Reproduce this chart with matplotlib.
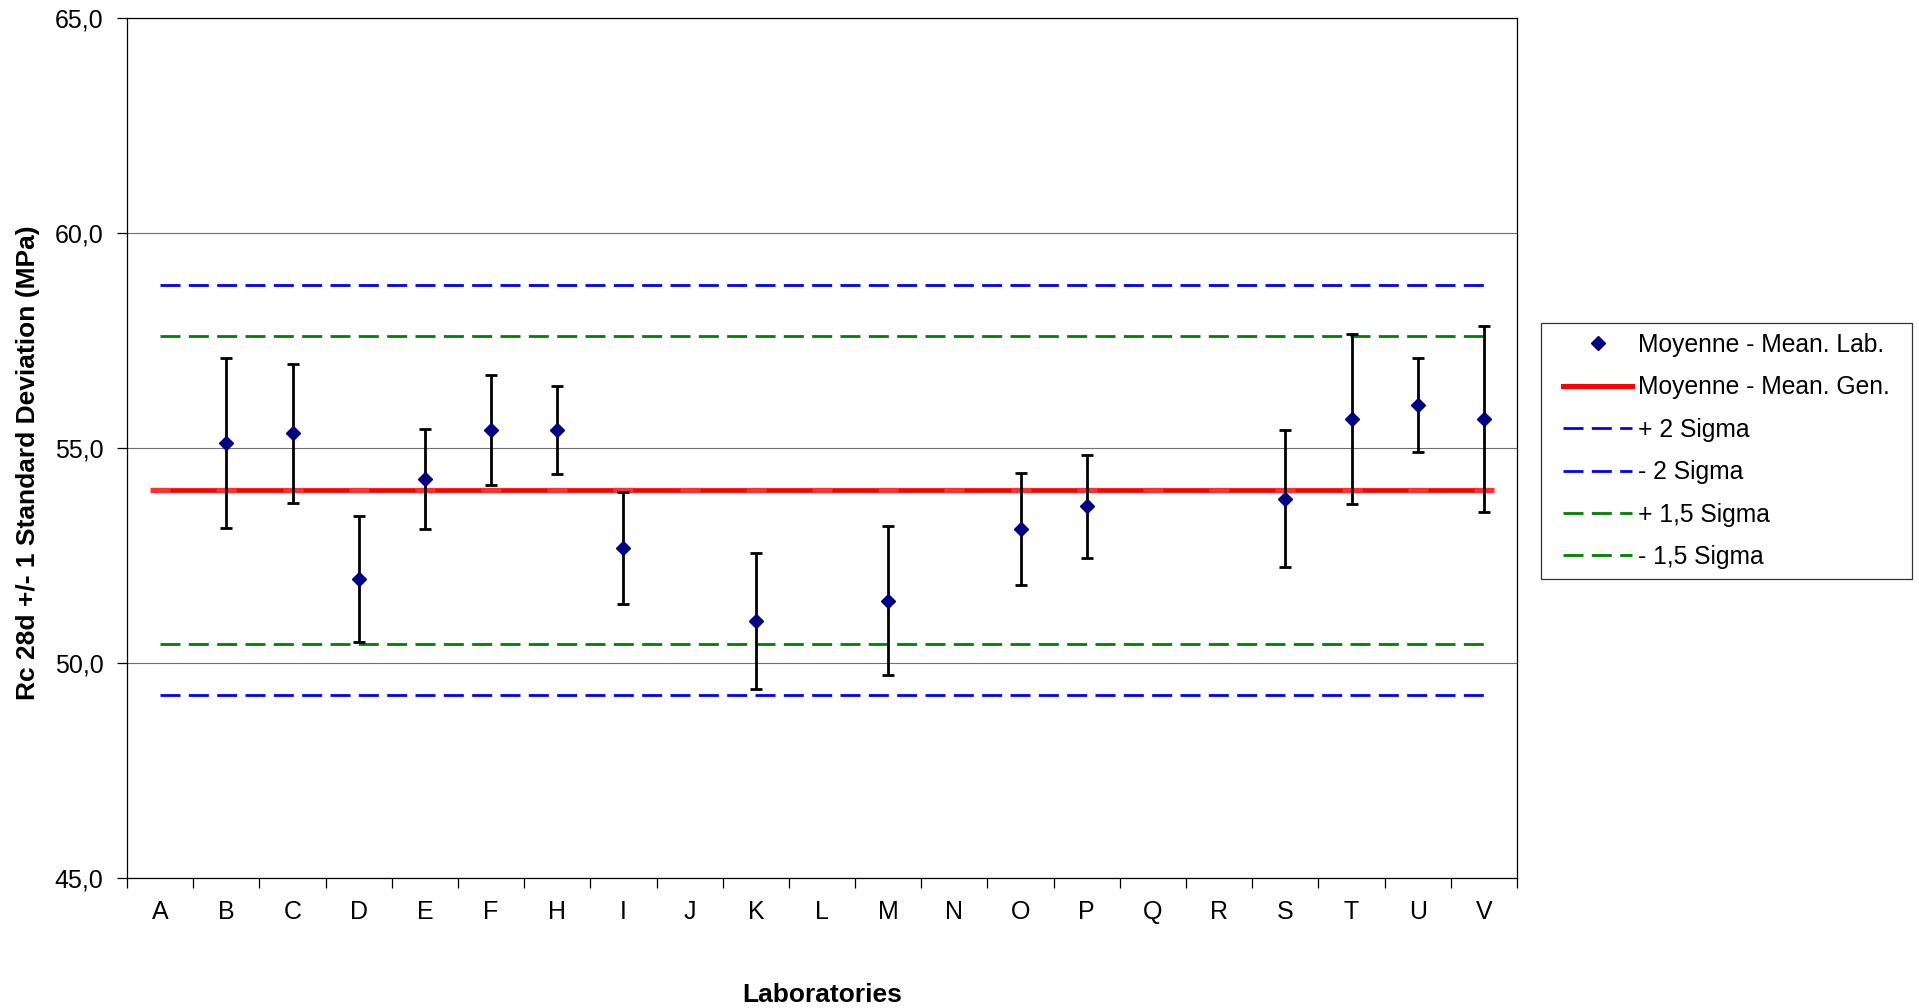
import matplotlib

matplotlib.use("Agg")
import matplotlib.pyplot as plt  # noqa: E402
import numpy as np  # noqa: E402
from matplotlib.legend_handler import HandlerLine2D  # noqa: E402
from matplotlib.lines import Line2D  # noqa: E402

plt.rcParams["font.family"] = ["Liberation Sans", "DejaVu Sans"]

# 試験所ごとの平均値と標準偏差（空欄は欠測）
labs = ["A", "B", "C", "D", "E", "F", "H", "I", "J", "K", "L",
        "M", "N", "O", "P", "Q", "R", "S", "T", "U", "V"]
lab_mean = [np.nan, 55.11, 55.34, 51.95, 54.28, 55.42, 55.42, 52.67, np.nan, 50.97, np.nan,
            51.45, np.nan, 53.12, 53.65, np.nan, np.nan, 53.82, 55.67, 56.00, 55.67]
lab_sd = [np.nan, 1.98, 1.62, 1.46, 1.17, 1.29, 1.03, 1.30, np.nan, 1.58, np.nan,
          1.74, np.nan, 1.30, 1.20, np.nan, np.nan, 1.59, 1.98, 1.09, 2.16]

# 全体平均と管理限界
gen_mean = 54.02
plus_2_sigma = 58.79
minus_2_sigma = 49.25
plus_15_sigma = 57.60
minus_15_sigma = 50.44

y_ticks = [45, 50, 55, 60, 65]

fig = plt.figure(figsize=(19.19, 10.08), dpi=100)
ax = fig.add_axes([0.0662, 0.129, 0.7243, 0.853])

x = np.arange(len(labs))
ones = np.ones(len(labs))

dash = (7.2, 3.0)
ax.plot(x, ones * plus_2_sigma, color="#0000ff", lw=2.0, dashes=dash, zorder=3)
ax.plot(x, ones * minus_2_sigma, color="#0000ff", lw=2.0, dashes=dash, zorder=3)
ax.plot(x, ones * plus_15_sigma, color="#008000", lw=2.0, dashes=dash, zorder=3)
ax.plot(x, ones * minus_15_sigma, color="#008000", lw=2.0, dashes=dash, zorder=3)
ax.plot(x, ones * gen_mean, color="#ff0000", lw=3.4, zorder=4, solid_capstyle="butt",
        marker="_", markersize=13.7, markeredgewidth=3.8, markeredgecolor="#ff3030")

ax.errorbar(x, lab_mean, yerr=lab_sd, fmt="none", ecolor="black", elinewidth=2.0,
            capsize=4.3, capthick=2.0, zorder=5)
ax.plot(x, lab_mean, linestyle="none", marker="D", markersize=7.6,
        color="#000080", zorder=6)

ax.set_xlim(-0.5, len(labs) - 0.5)
ax.set_ylim(45, 65)
ax.set_yticks(y_ticks)
ax.set_yticklabels([f"{v:.1f}".replace(".", ",") for v in y_ticks], fontsize=18)
ax.set_xticks(x)
ax.set_xticklabels(labs, fontsize=18)
ax.set_xticks(np.arange(len(labs) + 1) - 0.5, minor=True)
ax.tick_params(axis="x", which="major", length=0, pad=16)
ax.tick_params(axis="x", which="minor", length=7, width=0.9, direction="out")
ax.tick_params(axis="y", which="major", length=7, width=0.9, direction="out", pad=10)

ax.grid(axis="y", color="#707070", lw=0.8, zorder=1)
for spine in ax.spines.values():
    spine.set_linewidth(0.9)
    spine.set_color("black")

fig.text(0.4283, 1 - 995 / 1008, "Laboratories", fontsize=19, fontweight="bold",
         ha="center", va="center")
fig.text(28 / 1919, 1 - 463 / 1008, "Rc 28d +/- 1 Standard Deviation (MPa)", fontsize=19,
         fontweight="bold", rotation=90, ha="center", va="center")

handles = [
    Line2D([], [], linestyle="none", marker="D", markersize=7.0, color="#000080"),
    Line2D([], [], color="#ff0000", lw=3.6),
    Line2D([], [], color="#0000ff", lw=2.0, dashes=dash),
    Line2D([], [], color="#0000ff", lw=2.0, dashes=dash),
    Line2D([], [], color="#008000", lw=2.0, dashes=dash),
    Line2D([], [], color="#008000", lw=2.0, dashes=dash),
]
labels = ["Moyenne - Mean. Lab.", "Moyenne - Mean. Gen.", "+ 2 Sigma", "- 2 Sigma",
          "+ 1,5 Sigma", "- 1,5 Sigma"]
leg = fig.legend(handles, labels, loc="upper left",
                 bbox_to_anchor=(1541 / 1919, 1 - 323 / 1008, 371 / 1919, 0.0),
                 mode="expand", fontsize=17.7, handlelength=3.3, handletextpad=0.25,
                 labelspacing=0.75, borderpad=0.4, frameon=True, fancybox=False,
                 borderaxespad=0.0, handler_map={Line2D: HandlerLine2D(xpad=0.5)})
leg.get_frame().set_edgecolor("black")
leg.get_frame().set_linewidth(0.9)

fig.savefig("out.png", dpi=100)
